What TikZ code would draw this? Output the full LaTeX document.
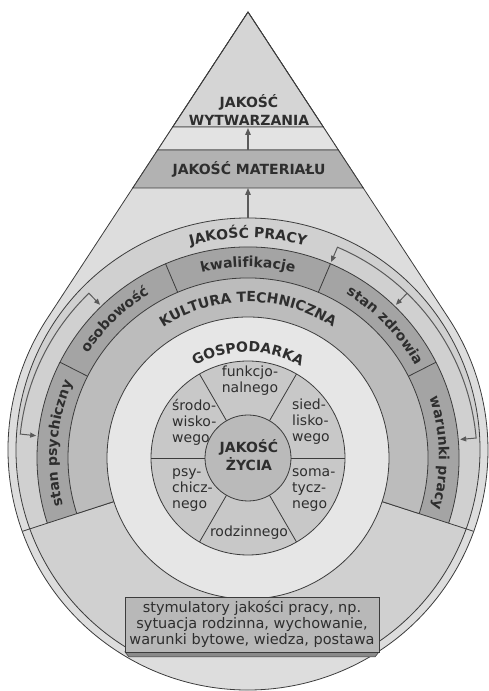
\documentclass[tikz,border=0pt]{standalone}
\usepackage{fontspec}
\setmainfont{DejaVu Sans}
\usetikzlibrary{arrows.meta,decorations.text,calc}
\definecolor{dropfill}{HTML}{DDDDDD}
\definecolor{topfill}{HTML}{D5D5D5}
\definecolor{bandlight}{HTML}{E3E3E3}
\definecolor{matfill}{HTML}{B2B2B2}
\definecolor{ringfill}{HTML}{D0D0D0}
\definecolor{skillfill}{HTML}{A4A4A4}
\definecolor{kultfill}{HTML}{BCBCBC}
\definecolor{gospfill}{HTML}{E6E6E6}
\definecolor{sectfill}{HTML}{C8C8C8}
\definecolor{centfill}{HTML}{BABABA}
\definecolor{boxfill}{HTML}{B8B8B8}
\definecolor{bevelfill}{HTML}{8A8A8A}
\definecolor{lineclr}{HTML}{3C3C3C}
\definecolor{txtclr}{HTML}{2E2E2E}
\definecolor{arrclr}{HTML}{5A5A5A}
\begin{document}
\begin{tikzpicture}[x=1pt,y=1pt,
  outl/.style={draw=lineclr, line width=0.8pt},
  conn/.style={draw=arrclr, line width=1.2pt, -{Triangle[length=7pt,width=5.5pt]}},
  brk/.style={draw=arrclr, line width=1pt},
  tipend/.style={-{Triangle[length=6pt,width=5pt]}},
  tipboth/.style={{Triangle[length=6pt,width=5pt]}-{Triangle[length=6pt,width=5pt]}},
  boldlbl/.style={font=\fontsize{14}{18}\selectfont\bfseries, text=txtclr, align=center, inner sep=0pt},
  seclbl/.style={font=\fontsize{14}{16}\selectfont, text=txtclr, inner sep=0pt},
]
\useasboundingbox (0,0) rectangle (488,691);
\coordinate (A) at (248,679);
\coordinate (D) at (248,241);
\coordinate (O) at (248,233);

% drop shape
\filldraw[fill=dropfill, outl] (A) -- ($(D)+(146.8:240pt)$) arc[start angle=146.8, end angle=393.2, radius=240pt] -- cycle;

% inner circle fill (JAKOSC PRACY ring)
\begin{scope}
\clip (0,36) rectangle (488,691);
\fill[ringfill] (D) circle[radius=232pt];
\end{scope}
\draw[outl] ($(D)+(-58.7:232pt)$) arc[start angle=-58.7, end angle=238.7, radius=232pt];

% triangle bands
\filldraw[fill=topfill, outl] (A) -- (172.7,564) -- (323.3,564) -- cycle;
\filldraw[fill=bandlight, outl] (172.7,564) -- (323.3,564) -- (338.3,541) -- (157.7,541) -- cycle;
\filldraw[fill=matfill, outl] (157.7,541) -- (338.3,541) -- (363.2,503) -- (132.8,503) -- cycle;
\draw[outl] (A) -- (172.7,564);
\draw[outl] (A) -- (323.3,564);

% upper rings
\filldraw[fill=skillfill, outl] (O) -- ($(O)+(-18:211pt)$) arc[start angle=-18, end angle=198, radius=211pt] -- cycle;
\filldraw[fill=kultfill, outl] (O) -- ($(O)+(-18:180pt)$) arc[start angle=-18, end angle=198, radius=180pt] -- cycle;
\foreach \a in {27,67,113,153}
  \draw[outl] ($(O)+(\a:180pt)$) -- ($(O)+(\a:211pt)$);
\draw[outl] ($(O)+(-18:211pt)$) -- ($(O)+(-18:237pt)$);
\draw[outl] ($(O)+(198:211pt)$) -- ($(O)+(198:237pt)$);

% gospodarka, sectors, centre
\filldraw[fill=gospfill, outl] (O) circle[radius=141pt];
\filldraw[fill=sectfill, outl] (O) circle[radius=97pt];
\foreach \a in {0,60,...,300}
  \draw[outl] ($(O)+(\a:43pt)$) -- ($(O)+(\a:97pt)$);
\filldraw[fill=centfill, outl] (O) circle[radius=43pt];

% texts in triangle
\node[boldlbl] (wytw) at (249,581) {JAKOŚĆ\\WYTWARZANIA};
\node[boldlbl] (mat) at (249,522) {JAKOŚĆ MATERIAŁU};
\coordinate (bandlow) at (248,541);
\coordinate (bandup) at (248,563);
\coordinate (pracytop) at (248,473);
\coordinate (matlow) at (248,503);
\draw[conn] (bandlow) -- (bandup);
\draw[conn] (pracytop) -- (matlow);

% curved labels
\path[decorate, decoration={text along path, text align=center, text color=txtclr,
  text={|\fontsize{14}{14}\selectfont\bfseries|JAKOŚĆ PRACY}}]
  ($(O)+(150:220pt)$) arc[start angle=150, end angle=30, radius=220pt];
\path[decorate, decoration={text along path, text align=center, text color=txtclr,
  text={|\fontsize{14}{14}\selectfont\bfseries|kwalifikacje}}]
  ($(O)+(140:191pt)$) arc[start angle=140, end angle=40, radius=191pt];
\path[decorate, decoration={text along path, text align=center, text color=txtclr,
  text={|\fontsize{14}{14}\selectfont\bfseries|osobowość}}]
  ($(O)+(184:191pt)$) arc[start angle=184, end angle=84, radius=191pt];
\path[decorate, decoration={text along path, text align=center, text color=txtclr,
  text={|\fontsize{14}{14}\selectfont\bfseries|stan zdrowia}}]
  ($(O)+(94:191pt)$) arc[start angle=94, end angle=-6, radius=191pt];
\path[decorate, decoration={text along path, text align=center, text color=txtclr,
  text={|\fontsize{14}{14}\selectfont\bfseries|warunki pracy}}]
  ($(O)+(51.5:191pt)$) arc[start angle=51.5, end angle=-48.5, radius=191pt];
\path[decorate, decoration={text along path, text align=center, text color=txtclr,
  text={|\fontsize{14}{14}\selectfont\bfseries|stan psychiczny}}]
  ($(O)+(225.5:191pt)$) arc[start angle=225.5, end angle=125.5, radius=191pt];
\path[decorate, decoration={text along path, text align=center, text color=txtclr,
  text={|\fontsize{14}{14}\selectfont\bfseries|KULTURA TECHNICZNA}}]
  ($(O)+(160:156pt)$) arc[start angle=160, end angle=20, radius=156pt];
\path[decorate, decoration={text along path, text align=center, text color=txtclr,
  text={|\fontsize{14}{14}\selectfont\bfseries|GOSPODARKA}}]
  ($(O)+(170:106pt)$) arc[start angle=170, end angle=10, radius=106pt];

% brackets
\coordinate (psyT) at ($(O)+(174:213pt)$);
\coordinate (psyB) at ($(O)+(174:229pt)$);
\coordinate (osoB) at ($(O)+(134:229pt)$);
\coordinate (osoT) at ($(O)+(134:213pt)$);
\draw[brk, tipboth] (psyT) -- (psyB) arc[start angle=174, end angle=134, radius=229pt] -- (osoT);
\coordinate (kwaT) at ($(O)+(67:213pt)$);
\coordinate (kwaB) at ($(O)+(67:229pt)$);
\coordinate (warB) at ($(O)+(5:229pt)$);
\coordinate (warT) at ($(O)+(5:213pt)$);
\coordinate (zdrB) at ($(O)+(46:229pt)$);
\coordinate (zdrT) at ($(O)+(46:213pt)$);
\draw[brk, tipboth] (kwaT) -- (kwaB) arc[start angle=67, end angle=5, radius=229pt] -- (warT);
\draw[brk, tipend] (zdrB) -- (zdrT);

% centre and sectors
\node[boldlbl] (zycie) at (249,235.5) {JAKOŚĆ\\ŻYCIA};
\node[seclbl, align=center] (funk) at (250,310) {funkcjo-\\nalnego};
\node[seclbl, align=left, anchor=west] (sied) at (292,269) {sied-\\lisko-\\wego};
\node[seclbl, align=left, anchor=west] (srod) at (172,269) {środo-\\wisko-\\wego};
\node[seclbl, align=left, anchor=west] (psy) at (172,201) {psy-\\chicz-\\nego};
\node[seclbl, align=left, anchor=west] (soma) at (292,201) {soma-\\tycz-\\nego};
\node[seclbl, align=center] (rodz) at (249,158) {rodzinnego};

% stimulators box
\fill[bevelfill, draw=lineclr, line width=0.5pt] (125,39) -- (379,39) -- (375,34) -- (129,34) -- cycle;
\node[draw=lineclr, line width=0.8pt, fill=boxfill, minimum width=254pt, minimum height=55pt,
  inner sep=0pt, align=center, font=\fontsize{14.5}{16}\selectfont, text=txtclr] (stim) at (252,66.5)
  {stymulatory jakości pracy, np.\\sytuacja rodzinna, wychowanie,\\warunki bytowe, wiedza, postawa};
\end{tikzpicture}
\end{document}
